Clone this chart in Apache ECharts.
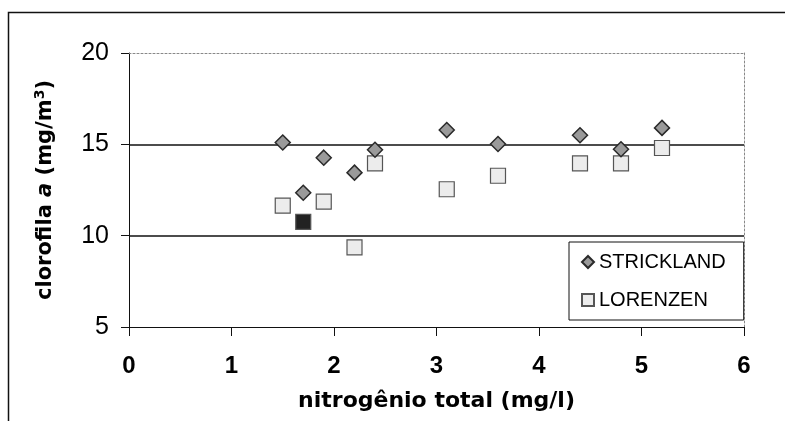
<!DOCTYPE html>
<html>
<head>
<meta charset="utf-8">
<script src="https://cdn.jsdelivr.net/npm/echarts@6/dist/echarts.min.js"></script>
<style>
  html, body { margin: 0; padding: 0; background: #fff; }
  #chart { width: 785px; height: 421px; }
</style>
</head>
<body>
<div id="chart"></div>
<script>
// nitrogênio total (mg/l)
let nitro = [1.5, 1.7, 1.9, 2.2, 2.4, 3.1, 3.6, 4.4, 4.8, 5.2];
// clorofila a (mg/m3)
let strickland = [15.1, 12.35, 14.27, 13.45, 14.7, 15.78, 15.02, 15.5, 14.73, 15.9];
let lorenzen = [11.64, 10.76, 11.86, 9.36, 13.96, 12.54, 13.28, 13.96, 13.96, 14.8];
let xTicks = [0, 1, 2, 3, 4, 5, 6];
let yTicks = [5, 10, 15, 20];

let chart = echarts.init(document.getElementById('chart'), null, {renderer: 'canvas'});

let pairs = (ys) => nitro.map((x, i) => [x, ys[i]]);
// the 1.7 LORENZEN point is printed dark in the original
let lorData = pairs(lorenzen).map((p, i) => i === 1
  ? {value: p, itemStyle: {color: '#222', borderColor: '#555'}}
  : p);

const FONT = 'Liberation Sans, Arial, sans-serif';
const TFONT = 'DejaVu Sans, sans-serif';

chart.setOption({
  backgroundColor: '#fff',
  animation: false,
  graphic: [{
    type: 'rect',
    shape: {x: 8.5, y: 12.5, width: 900, height: 500},
    style: {fill: null, stroke: '#111', lineWidth: 1.5},
    silent: true
  }],
  grid: {left: 129, right: 41, top: 53, bottom: 94, containLabel: false, outerBoundsMode: 'none'},
  legend: {
    orient: 'vertical',
    left: 569, top: 242,
    padding: [10, 18, 10, 12],
    itemGap: 18,
    itemWidth: 12, itemHeight: 12,
    backgroundColor: '#fff',
    borderColor: '#111', borderWidth: 1,
    textStyle: {fontSize: 20, color: '#000', fontFamily: FONT},
    data: [
      {name: 'STRICKLAND', icon: 'diamond'},
      {name: 'LORENZEN', icon: 'rect'}
    ]
  },
  xAxis: [{
    type: 'value',
    min: xTicks[0], max: xTicks[xTicks.length - 1], interval: 1,
    name: 'nitrogênio total (mg/l)',
    nameLocation: 'middle',
    nameGap: 63,
    nameMoveOverlap: false,
    nameTextStyle: {fontSize: 22, fontWeight: 'bold', color: '#000', fontFamily: TFONT},
    axisLine: {show: true, onZero: false, lineStyle: {color: '#111', width: 1}},
    axisTick: {show: true, inside: false, length: 9, lineStyle: {color: '#111'}},
    axisLabel: {margin: 27, fontSize: 24, fontWeight: 'bold', color: '#000', fontFamily: FONT},
    splitLine: {show: false}
  }, {
    type: 'value', position: 'top',
    min: xTicks[0], max: xTicks[xTicks.length - 1], interval: 1,
    axisLine: {show: true, onZero: false, lineStyle: {color: '#888', width: 1, type: [2, 2]}},
    axisTick: {show: false}, axisLabel: {show: false}, splitLine: {show: false}
  }],
  yAxis: [{
    type: 'value',
    min: yTicks[0], max: yTicks[yTicks.length - 1], interval: 5,
    name: '{t|clorofila }{i|a}{t| (mg/m}{s|3}{t|)}',
    nameLocation: 'middle',
    nameRotate: 90,
    nameGap: 71,
    nameMoveOverlap: false,
    nameTextStyle: {
      fontSize: 21, fontWeight: 'bold', color: '#000', fontFamily: TFONT,
      rich: {
        t: {fontSize: 21, fontWeight: 'bold', color: '#000', fontFamily: TFONT},
        i: {fontSize: 21, fontWeight: 'bold', fontStyle: 'italic', color: '#000', fontFamily: TFONT},
        s: {fontSize: 14, fontWeight: 'bold', color: '#000', fontFamily: TFONT,
          verticalAlign: 'top', padding: [0, 0, 11, 0]}
      }
    },
    axisLine: {show: true, onZero: false, lineStyle: {color: '#111', width: 1}},
    axisTick: {show: true, inside: false, length: 8, lineStyle: {color: '#111'}},
    axisLabel: {margin: 20, fontSize: 25, color: '#000', fontFamily: FONT},
    splitLine: {show: true, showMinLine: false, showMaxLine: false,
      lineStyle: {color: '#111', width: 1.5}}
  }, {
    type: 'value', position: 'right',
    min: yTicks[0], max: yTicks[yTicks.length - 1], interval: 5,
    axisLine: {show: true, onZero: false, lineStyle: {color: '#888', width: 1, type: [2, 2]}},
    axisTick: {show: false}, axisLabel: {show: false}, splitLine: {show: false}
  }],
  series: [{
    name: 'STRICKLAND',
    type: 'scatter',
    symbol: 'diamond',
    symbolSize: 15,
    itemStyle: {color: '#9a9a9a', borderColor: '#2a2a2a', borderWidth: 1.5, opacity: 1},
    data: pairs(strickland),
    z: 3
  }, {
    name: 'LORENZEN',
    type: 'scatter',
    symbol: 'rect',
    symbolSize: 15,
    itemStyle: {color: '#ececec', borderColor: '#555', borderWidth: 1.2, opacity: 1},
    data: lorData,
    z: 2
  }]
});
</script>
</body>
</html>
